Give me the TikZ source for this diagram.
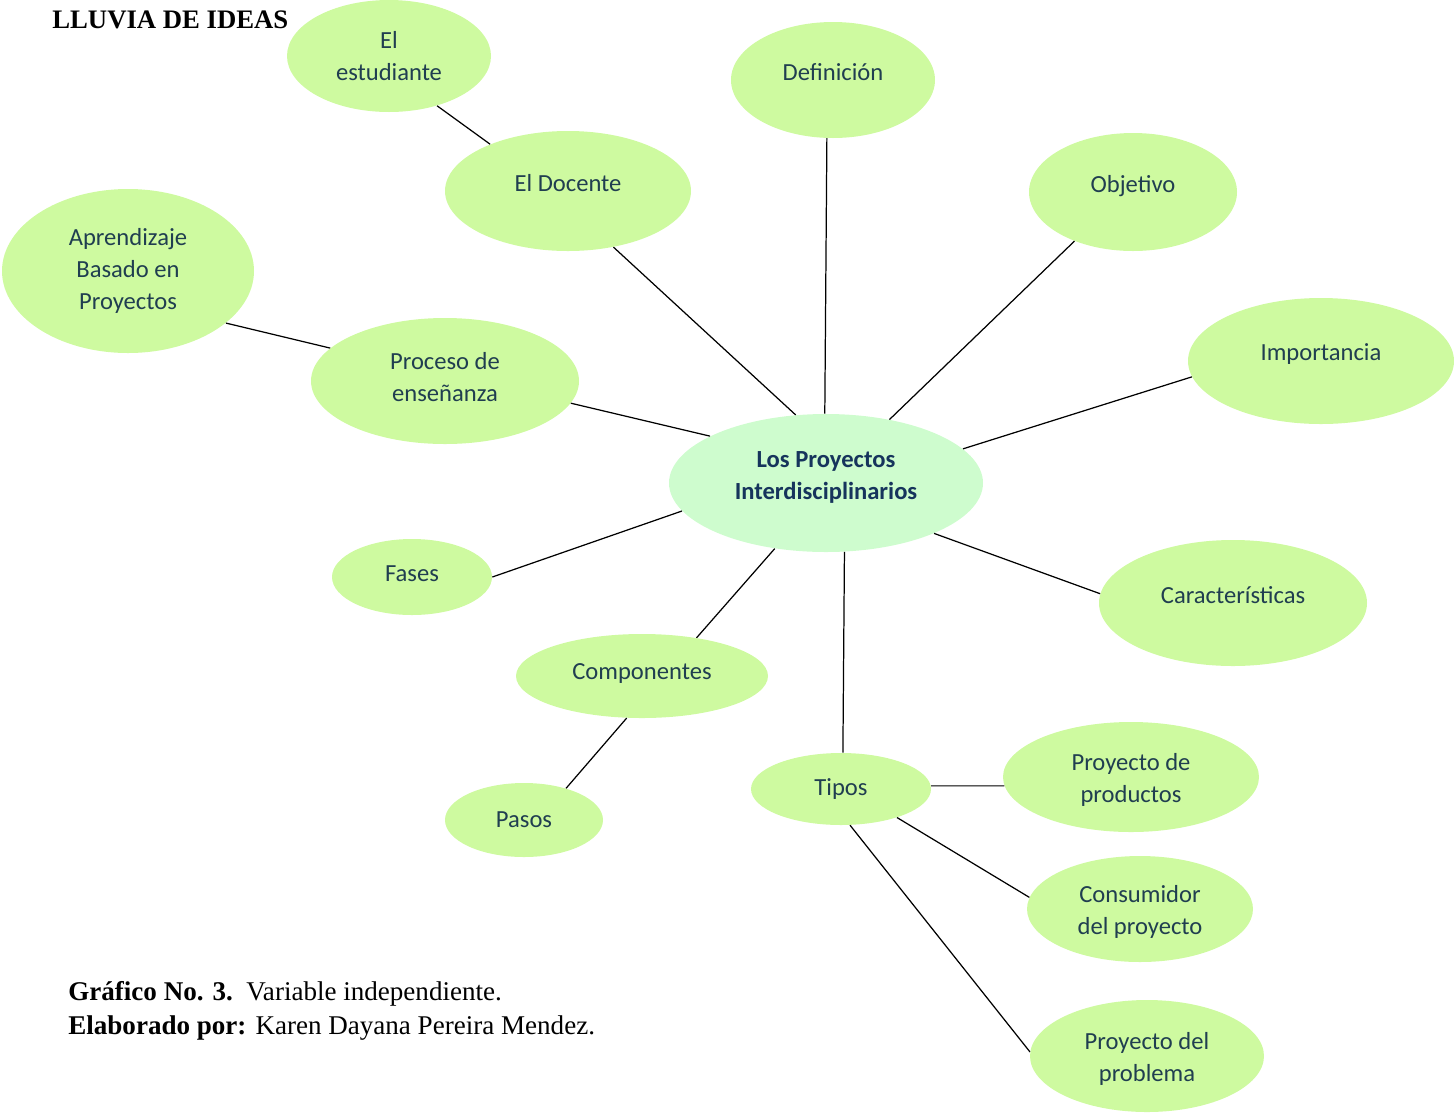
\documentclass[tikz,border=0pt]{standalone}
\usepackage{fontspec}
\setmainfont{Liberation Serif}
\newfontfamily\calib{Carlito}
\usetikzlibrary{shapes.geometric}
\definecolor{leaf}{RGB}{206,250,160}
\definecolor{mint}{RGB}{206,252,206}
\definecolor{ink}{RGB}{32,62,80}
\definecolor{navy}{RGB}{22,52,92}
\tikzset{
  idea/.style={ellipse, fill=leaf, draw=none, inner sep=0pt},
  hub/.style={idea, fill=mint},
  txt/.style={inner sep=0pt, align=center, text=ink, font=\calib\fontsize{14}{18.2}\selectfont},
  hubtxt/.style={txt, text=navy, font=\calib\bfseries\fontsize{14}{18.2}\selectfont},
  link/.style={draw=black, line width=0.7pt},
  captext/.style={anchor=base west, inner sep=0pt, text=black}
}
\begin{document}
\begin{tikzpicture}[x=0.02cm, y=-0.02cm]
\useasboundingbox (0,0) rectangle (1454,1113);
% nodes
\node[hub, minimum width=314*0.02cm, minimum height=138*0.02cm,
  label={[hubtxt, yshift=6*0.02cm]center:{Los Proyectos\\Interdisciplinarios}}] (c) at (826,483) {};
\node[idea, minimum width=204*0.02cm, minimum height=112*0.02cm,
  label={[txt]center:{El\\estudiante}}] (est) at (389,56) {};
\node[idea, minimum width=204*0.02cm, minimum height=116*0.02cm,
  label={[txt, yshift=8*0.02cm]center:{Definición}}] (def) at (833,80) {};
\node[idea, minimum width=246*0.02cm, minimum height=120*0.02cm,
  label={[txt, yshift=8*0.02cm]center:{El Docente}}] (doc) at (568,191) {};
\node[idea, minimum width=208*0.02cm, minimum height=118*0.02cm,
  label={[txt, yshift=6*0.02cm]center:{Objetivo}}] (obj) at (1133,192) {};
\node[idea, minimum width=252*0.02cm, minimum height=164*0.02cm,
  label={[txt]center:{Aprendizaje\\Basado en\\Proyectos}}] (abp) at (128,271) {};
\node[idea, minimum width=266*0.02cm, minimum height=126*0.02cm,
  label={[txt, yshift=7*0.02cm]center:{Importancia}}] (imp) at (1321,361) {};
\node[idea, minimum width=268*0.02cm, minimum height=126*0.02cm,
  label={[txt, yshift=4*0.02cm]center:{Proceso de\\enseñanza}}] (pro) at (445,381) {};
\node[idea, minimum width=160*0.02cm, minimum height=76*0.02cm,
  label={[txt, yshift=3*0.02cm]center:{Fases}}] (fas) at (412,577) {};
\node[idea, minimum width=268*0.02cm, minimum height=126*0.02cm,
  label={[txt, yshift=8*0.02cm]center:{Características}}] (car) at (1233,603) {};
\node[idea, minimum width=252*0.02cm, minimum height=84*0.02cm,
  label={[txt, yshift=3*0.02cm]center:{Componentes}}] (com) at (642,676) {};
\node[idea, minimum width=180*0.02cm, minimum height=72*0.02cm,
  label={[txt]center:{Tipos}}] (tip) at (841,789) {};
\node[idea, minimum width=256*0.02cm, minimum height=110*0.02cm,
  label={[txt, yshift=-3*0.02cm]center:{Proyecto de\\productos}}] (prd) at (1131,777) {};
\node[idea, minimum width=158*0.02cm, minimum height=74*0.02cm,
  label={[txt]center:{Pasos}}] (pas) at (524,820) {};
\node[idea, minimum width=226*0.02cm, minimum height=106*0.02cm,
  label={[txt, yshift=-3*0.02cm]center:{Consumidor\\del proyecto}}] (con) at (1140,909) {};
\node[idea, minimum width=234*0.02cm, minimum height=112*0.02cm,
  label={[txt, yshift=-3*0.02cm]center:{Proyecto del\\problema}}] (prb) at (1147,1056) {};
% connectors
\draw[link] (est.-46) -- (doc.149);
\draw[link] (doc.-51) -- (c.114);
\draw[link] (def.-96) -- (c.91);
\draw[link] (obj.-140) -- (c.45);
\draw[link] (imp.-173) -- (c.14);
\draw[link] (pro.-10) -- (c.158);
\draw[link] (abp.-28) -- (pro.164);
\draw[link] (fas.0) -- (c.-169);
\draw[link] (car.176) -- (c.-25);
\draw[link] (com.35) -- (c.-128);
\draw[link] (com.-110) -- (pas.37);
\draw[link] (tip.87) -- (c.-75);
\draw[link] (tip.2) -- (prd.-176);
\draw[link] (tip.-27) -- (con.174);
\draw[link] (tip.-76) -- (prb.178);
% texts
\node[captext, font=\bfseries\fontsize{15.2}{18}\selectfont] (title) at (52,28) {LLUVIA DE IDEAS};
\node[captext, font=\fontsize{15.4}{18}\selectfont] (cap1) at (68,1000) {\textbf{Gráfico No. 3.}\ \ Variable independiente.};
\node[captext, font=\fontsize{15.4}{18}\selectfont] (cap2) at (68,1034) {\textbf{Elaborado por:} Karen Dayana Pereira Mendez.};
\end{tikzpicture}
\end{document}
